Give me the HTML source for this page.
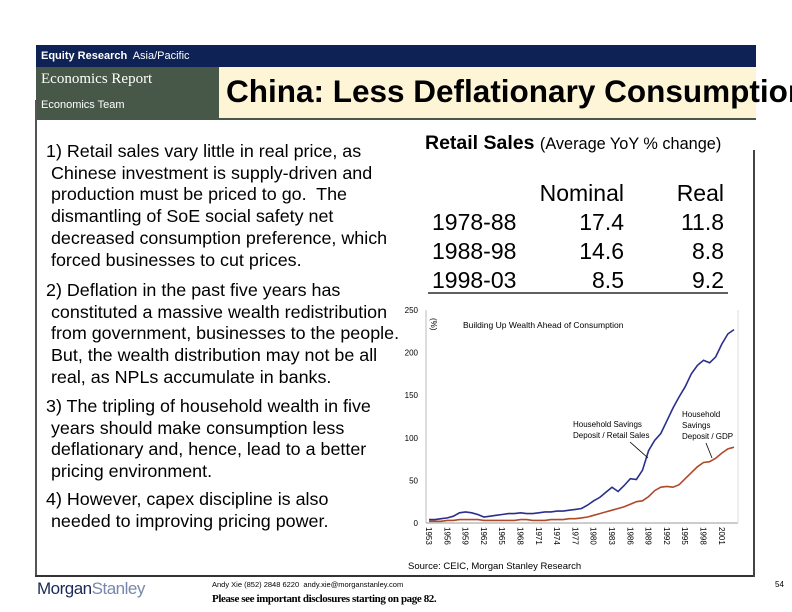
<!DOCTYPE html>
<html><head><meta charset="utf-8">
<style>
body{margin:0;width:792px;height:612px;background:#fff;position:relative;overflow:hidden;font-family:"Liberation Sans",sans-serif;}
.a{position:absolute;white-space:nowrap;}
.p{position:absolute;left:46px;font-size:17.9px;line-height:21.7px;color:#000;white-space:nowrap;}
</style></head><body>
<div class="a" style="left:36px;top:45px;width:720px;height:22px;background:#0f2256;"></div>
<div class="a" style="left:41px;top:50px;font-size:11px;color:#fff;"><b>Equity Research</b>&nbsp; Asia/Pacific</div>
<div class="a" style="left:36px;top:67px;width:720px;height:53px;background:#475848;"></div>
<div class="a" style="left:41px;top:71px;font-family:'Liberation Serif',serif;font-size:15px;color:#fff;">Economics Report</div>
<div class="a" style="left:41px;top:99px;font-size:11px;color:#fff;">Economics Team</div>
<div class="a" style="left:219px;top:67px;width:537px;height:51px;background:#fdf5d6;"></div>
<div class="a" style="left:226px;top:73px;font-size:31.5px;font-weight:bold;color:#000;">China: Less Deflationary Consumption</div>
<div class="a" style="left:35px;top:100px;width:2px;height:477px;background:#555;"></div>
<div class="a" style="left:35px;top:575px;width:720px;height:2px;background:#333;"></div>
<div class="a" style="left:753px;top:150px;width:2px;height:427px;background:#444;"></div>

<div class="p" style="top:141px;">1) Retail sales vary little in real price, as<br>&nbsp;Chinese investment is supply-driven and<br>&nbsp;production must be priced to go.&nbsp; The<br>&nbsp;dismantling of SoE social safety net<br>&nbsp;decreased consumption preference, which<br>&nbsp;forced businesses to cut prices.</div>
<div class="p" style="top:280px;">2) Deflation in the past five years has<br>&nbsp;constituted a massive wealth redistribution<br>&nbsp;from government, businesses to the people.<br>&nbsp;But, the wealth distribution may not be all<br>&nbsp;real, as NPLs accumulate in banks.</div>
<div class="p" style="top:396px;">3) The tripling of household wealth in five<br>&nbsp;years should make consumption less<br>&nbsp;deflationary and, hence, lead to a better<br>&nbsp;pricing environment.</div>
<div class="p" style="top:489px;">4) However, capex discipline is also<br>&nbsp;needed to improving pricing power.</div>

<div class="a" style="left:425px;top:132px;font-size:19.5px;font-weight:bold;">Retail Sales <span style="font-size:16.3px;font-weight:normal;">(Average YoY % change)</span></div>
<svg class="a" style="left:400px;top:170px;" width="350" height="130">
<g font-family="Liberation Sans, sans-serif" font-size="23" fill="#000">
<text x="224" y="31" text-anchor="end">Nominal</text><text x="324" y="31" text-anchor="end">Real</text>
<text x="32" y="60">1978-88</text><text x="224" y="60" text-anchor="end">17.4</text><text x="324" y="60" text-anchor="end">11.8</text>
<text x="32" y="89">1988-98</text><text x="224" y="89" text-anchor="end">14.6</text><text x="324" y="89" text-anchor="end">8.8</text>
<text x="32" y="118">1998-03</text><text x="224" y="118" text-anchor="end">8.5</text><text x="324" y="118" text-anchor="end">9.2</text>
</g>
<line x1="28" y1="123" x2="328" y2="123" stroke="#000" stroke-width="1.2"/>
</svg>

<svg class="a" id="chart" style="left:0;top:0;" width="792" height="612"></svg>

<div class="a" style="left:408px;top:561px;font-size:9.5px;">Source: CEIC, Morgan Stanley Research</div>
<div class="a" style="left:37px;top:579px;font-size:17px;color:#1a2a55;letter-spacing:-0.5px;">Morgan<span style="color:#7788aa;">Stanley</span></div>
<div class="a" style="left:212px;top:580px;font-size:7.5px;">Andy Xie (852) 2848 6220&nbsp; andy.xie@morganstanley.com</div>
<div class="a" style="left:212px;top:593px;font-family:'Liberation Serif',serif;font-size:11px;font-weight:bold;letter-spacing:-0.4px;">Please see important disclosures starting on page 82.</div>
<div class="a" style="left:775px;top:580px;font-size:8px;">54</div>

<script>
const years=[];for(let y=1953;y<=2003;y++)years.push(y);
const retailRatio=[4,4,5,6,8,12,13,12,10,7,8,9,10,11,11,12,11,11,12,13,13,14,14,15,16,17,21,26,30,36,42,37,44,52,51,62,85,97,105,120,135,148,160,175,185,191,188,195,210,222,227];
const gdpRatio=[2,2,2,3,3,4,4,4,4,3,3,3,3,3,3,4,4,3,3,3,4,4,4,5,5,6,7,9,11,13,15,17,19,22,25,26,31,38,42,43,42,45,52,59,66,71,72,76,82,87,89];
const yTicks=[0,50,100,150,200,250];
const xTickYears=[1953,1956,1959,1962,1965,1968,1971,1974,1977,1980,1983,1986,1989,1992,1995,1998,2001];
const NS="http://www.w3.org/2000/svg";
const svg=document.getElementById('chart');
const X0=429,PX=6.1,Y0=523,PY=213/250;
const sx=y=>X0+(y-1953)*PX, sy=v=>Y0-v*PY;
function mk(t,a,txt){const e=document.createElementNS(NS,t);for(const k in a)e.setAttribute(k,a[k]);if(txt!==undefined)e.textContent=txt;svg.appendChild(e);return e;}
let e=mk('line',{x1:426,y1:310,x2:426,y2:523,stroke:'#bbb'});

e=mk('line',{x1:426,y1:523,x2:738,y2:523,stroke:'#999'});

e=mk('line',{x1:738,y1:310,x2:738,y2:523,stroke:'#ddd'});

yTicks.forEach(v=>{const t=mk('text',{x:418,y:sy(v)+3,'font-size':8,'text-anchor':'end','font-family':'Liberation Sans, sans-serif'},String(v));
});
xTickYears.forEach(y=>{const x=sx(y);const t=mk('text',{x:0,y:0,'font-size':8,'font-family':'Liberation Sans, sans-serif',transform:`translate(${x-3},527) rotate(90)`},String(y));
});
function line(vals,color,name){const d=vals.map((v,i)=>(i?'L':'M')+sx(years[i]).toFixed(1)+','+sy(v).toFixed(1)).join('');
const p=mk('path',{d:d,fill:'none',stroke:color,'stroke-width':1.6});
}
line(gdpRatio,'#b0482a','gdp-ratio-line');
line(retailRatio,'#2a2f8a','retail-ratio-line');
e=mk('text',{x:463,y:328,'font-size':8.5,'font-family':'Liberation Sans, sans-serif'},'Building Up Wealth Ahead of Consumption');

e=mk('text',{x:0,y:0,'font-size':8,'font-family':'Liberation Sans, sans-serif',transform:'translate(431,318) rotate(90)'},'(%)');

e=mk('text',{x:573,y:427,'font-size':8,'font-family':'Liberation Sans, sans-serif'},'Household Savings');

e=mk('text',{x:573,y:438,'font-size':8,'font-family':'Liberation Sans, sans-serif'},'Deposit / Retail Sales');

e=mk('line',{x1:630,y1:442,x2:648,y2:458,stroke:'#000','stroke-width':0.8});

e=mk('text',{x:682,y:417,'font-size':8,'font-family':'Liberation Sans, sans-serif'},'Household');

e=mk('text',{x:682,y:428,'font-size':8,'font-family':'Liberation Sans, sans-serif'},'Savings');

e=mk('text',{x:682,y:439,'font-size':8,'font-family':'Liberation Sans, sans-serif'},'Deposit / GDP');

e=mk('line',{x1:706,y1:443,x2:712,y2:458,stroke:'#000','stroke-width':0.8});

</script>
</body></html>
